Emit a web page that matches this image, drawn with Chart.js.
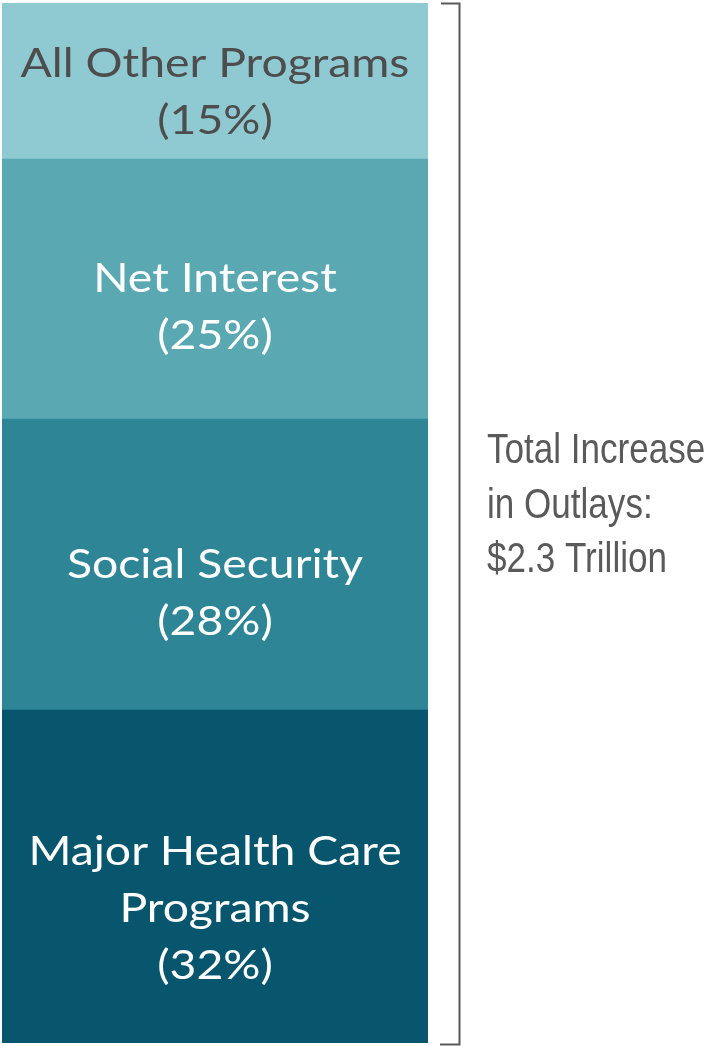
<!DOCTYPE html>
<html>
<head>
<meta charset="utf-8">
<script src="https://cdn.jsdelivr.net/npm/chart.js@4.4.1/dist/chart.umd.min.js"></script>
<style>
    html, body { margin: 0; padding: 0; background: #ffffff; }
    #wrap { width: 713px; height: 1046px; }
</style>
</head>
<body>
<div id="wrap"><canvas id="outlayChart"></canvas></div>
<script>
// Share of the increase in outlays, bottom segment first
const categories = ['Increase in Outlays'];
const segmentNames = [
    ['Major Health Care', 'Programs'],
    ['Social Security'],
    ['Net Interest'],
    ['All Other Programs']
];
const segmentShares = [32, 28, 25, 15];
const totalNote = ['Total Increase', 'in Outlays:', '$2.3 Trillion'];

// Segment styling
const segmentColors = ['#07566d', '#2e8595', '#5aa8b2', '#8fcad2'];
const labelColors = ['#ffffff', '#ffffff', '#ffffff', '#4d4d4d'];
const labelShift = [31, 27, 17, 10];
const labelFont = '400 41px Lato, "Open Sans", sans-serif';
const labelStretch = 1.13;
const lineGap = 57;

// draw text with a horizontal stretch around its anchor
function stretchedText(ctx, text, x, y, sx) {
    ctx.save();
    ctx.translate(x, y);
    ctx.scale(sx, 1);
    ctx.fillText(text, 0, 0);
    ctx.restore();
}

// Labels centred inside each segment
const segmentLabels = {
    id: 'segmentLabels',
    afterDatasetsDraw(chart) {
        const ctx = chart.ctx;
        ctx.save();
        ctx.font = labelFont;
        ctx.textAlign = 'center';
        ctx.textBaseline = 'alphabetic';
        chart.data.datasets.forEach((ds, i) => {
            const bar = chart.getDatasetMeta(i).data[0];
            const lines = segmentNames[i].concat(['(' + ds.data[0] + '%)']);
            const cx = bar.x;
            const cy = (bar.y + bar.base) / 2 + labelShift[i];
            const capH = 29;
            const blockH = (lines.length - 1) * lineGap + capH;
            let y = cy - blockH / 2 + capH;
            ctx.fillStyle = labelColors[i];
            lines.forEach(line => {
                stretchedText(ctx, line, cx, y, labelStretch);
                y += lineGap;
            });
        });
        ctx.restore();
    }
};

// Bracket spanning the bar plus the total note beside it
const totalBracket = {
    id: 'totalBracket',
    afterDraw(chart) {
        const ctx = chart.ctx;
        const area = chart.chartArea;
        const bx = 459.5;
        ctx.save();
        ctx.strokeStyle = '#595959';
        ctx.lineWidth = 2;
        ctx.beginPath();
        ctx.moveTo(441, area.top + 0.5);
        ctx.lineTo(bx, area.top + 0.5);
        ctx.lineTo(bx, area.bottom + 1.5);
        ctx.lineTo(440, area.bottom + 1.5);
        ctx.stroke();

        ctx.fillStyle = '#5a5a5a';
        ctx.font = '400 42px "Liberation Sans", Arial, sans-serif';
        ctx.textAlign = 'left';
        ctx.textBaseline = 'alphabetic';
        totalNote.forEach((line, k) => {
            stretchedText(ctx, line, 487, 463 + k * 54.5, 0.835);
        });
        ctx.restore();
    }
};

const datasets = segmentShares.map((v, i) => ({
    label: segmentNames[i].join(' '),
    data: [v],
    backgroundColor: segmentColors[i],
    borderWidth: 0,
    barPercentage: 1,
    categoryPercentage: 1
}));

new Chart(document.getElementById('outlayChart'), {
    type: 'bar',
    data: { labels: categories, datasets: datasets },
    options: {
        responsive: true,
        maintainAspectRatio: false,
        animation: false,
        devicePixelRatio: 1,
        layout: { padding: { left: 2, right: 285, top: 3, bottom: 3 } },
        plugins: {
            legend: { display: false },
            title: { display: false },
            tooltip: { enabled: false }
        },
        scales: {
            x: { stacked: true, display: false },
            y: { stacked: true, display: false, min: 0, max: 100 }
        }
    },
    plugins: [segmentLabels, totalBracket]
});
</script>
</body>
</html>
